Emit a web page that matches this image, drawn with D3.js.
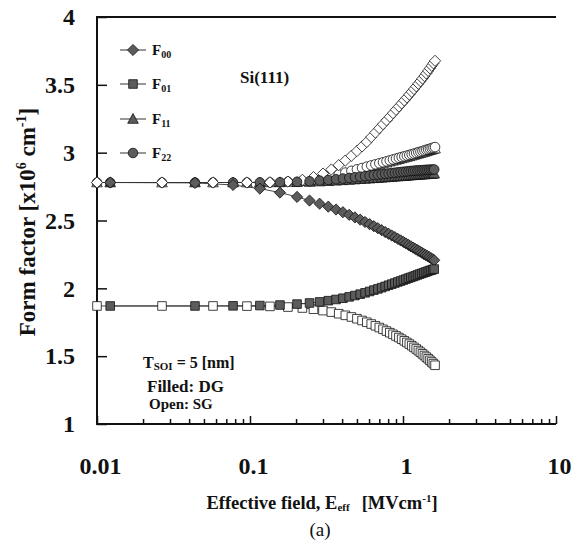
<!DOCTYPE html>
<html>
<head>
<meta charset="utf-8">
<script src="https://cdn.jsdelivr.net/npm/d3@7"></script>
<style>
  html, body { margin: 0; padding: 0; background: #fff; }
  svg { display: block; }
  text { font-family: "Liberation Serif", "Times New Roman", serif; fill: #111; }
</style>
</head>
<body>
<svg id="chart" width="573" height="547"></svg>
<script>
// Effective-field sample points (MV/cm) for single-gate and double-gate runs
const eSG = [0.010, 0.0266, 0.0573, 0.0955, 0.135, 0.177, 0.22, 0.26, 0.30, 0.34, 0.38, 0.42, 0.46, 0.50,
  0.54, 0.58, 0.62, 0.66, 0.70, 0.74, 0.78, 0.82, 0.86, 0.90, 0.94, 0.98, 1.02, 1.06, 1.10, 1.14,
  1.18, 1.22, 1.26, 1.30, 1.34, 1.38, 1.42, 1.46, 1.50, 1.54, 1.58, 1.62];
const eDG = [0.0122, 0.0437, 0.0775, 0.116, 0.157, 0.203, 0.245, 0.285, 0.325, 0.365, 0.405, 0.445,
  0.485, 0.525, 0.565, 0.605, 0.645, 0.685, 0.725, 0.765, 0.805, 0.845, 0.885, 0.925, 0.965, 1.005,
  1.045, 1.085, 1.125, 1.165, 1.205, 1.245, 1.285, 1.325, 1.365, 1.405, 1.445, 1.485, 1.525, 1.565, 1.60];

// Form factors, single gate (open symbols), x10^6 cm^-1
const f00SG = [2.78, 2.78, 2.78, 2.78, 2.781, 2.787, 2.80, 2.82, 2.846, 2.876, 2.908, 2.942, 2.977, 3.012,
  3.046, 3.079, 3.115, 3.148, 3.18, 3.21, 3.238, 3.265, 3.291, 3.316, 3.34, 3.363, 3.385, 3.407, 3.428,
  3.449, 3.469, 3.489, 3.508, 3.527, 3.546, 3.565, 3.584, 3.603, 3.622, 3.641, 3.659, 3.677];
const f01SG = [1.87, 1.87, 1.87, 1.869, 1.867, 1.862, 1.855, 1.846, 1.836, 1.825, 1.813, 1.801, 1.789,
  1.776, 1.763, 1.75, 1.737, 1.724, 1.711, 1.698, 1.685, 1.673, 1.661, 1.649, 1.637, 1.625, 1.613,
  1.601, 1.589, 1.577, 1.565, 1.553, 1.541, 1.529, 1.517, 1.505, 1.493, 1.481, 1.469, 1.457, 1.445, 1.433];
const f11SG = [2.78, 2.78, 2.78, 2.78, 2.781, 2.785, 2.79, 2.80, 2.81, 2.82, 2.835, 2.848, 2.86, 2.87,
  2.88, 2.89, 2.898, 2.906, 2.913, 2.92, 2.927, 2.934, 2.94, 2.946, 2.952, 2.958, 2.963, 2.968, 2.973,
  2.978, 2.983, 2.988, 2.992, 2.997, 3.001, 3.005, 3.01, 3.014, 3.018, 3.022, 3.026, 3.03];
const f22SG = [2.78, 2.78, 2.78, 2.78, 2.781, 2.786, 2.792, 2.803, 2.814, 2.825, 2.84, 2.853, 2.866, 2.877,
  2.887, 2.897, 2.906, 2.914, 2.922, 2.929, 2.936, 2.943, 2.95, 2.956, 2.962, 2.968, 2.973, 2.978, 2.983,
  2.988, 2.993, 2.998, 3.003, 3.007, 3.012, 3.016, 3.021, 3.025, 3.029, 3.033, 3.037, 3.041];

// Form factors, double gate (filled symbols)
const f00DG = [2.78, 2.777, 2.762, 2.735, 2.706, 2.674, 2.647, 2.624, 2.602, 2.581, 2.561, 2.542, 2.523,
  2.506, 2.489, 2.473, 2.458, 2.443, 2.429, 2.415, 2.402, 2.389, 2.377, 2.365, 2.353, 2.342, 2.331,
  2.32, 2.31, 2.30, 2.29, 2.281, 2.272, 2.263, 2.254, 2.246, 2.238, 2.23, 2.222, 2.214, 2.207];
const f01DG = [1.87, 1.87, 1.871, 1.873, 1.877, 1.884, 1.892, 1.90, 1.909, 1.918, 1.927, 1.937, 1.947,
  1.957, 1.967, 1.977, 1.987, 1.996, 2.005, 2.014, 2.023, 2.031, 2.039, 2.047, 2.054, 2.061, 2.068,
  2.075, 2.081, 2.087, 2.093, 2.099, 2.105, 2.11, 2.115, 2.12, 2.125, 2.13, 2.134, 2.138, 2.142];
const f11DG = [2.78, 2.78, 2.78, 2.78, 2.781, 2.782, 2.784, 2.787, 2.79, 2.793, 2.796, 2.799, 2.802,
  2.805, 2.807, 2.809, 2.811, 2.813, 2.815, 2.817, 2.819, 2.821, 2.823, 2.824, 2.826, 2.827, 2.829,
  2.83, 2.832, 2.833, 2.834, 2.836, 2.837, 2.838, 2.839, 2.84, 2.841, 2.842, 2.843, 2.844, 2.845];
const f22DG = [2.78, 2.78, 2.78, 2.781, 2.782, 2.785, 2.789, 2.794, 2.799, 2.804, 2.809, 2.814, 2.819,
  2.823, 2.827, 2.831, 2.835, 2.838, 2.841, 2.844, 2.847, 2.85, 2.852, 2.855, 2.857, 2.859, 2.861,
  2.863, 2.865, 2.866, 2.868, 2.869, 2.87, 2.871, 2.872, 2.873, 2.874, 2.874, 2.875, 2.875, 2.876];

// Axis ticks
const xMajor = [0.01, 0.1, 1, 10];
const xLabels = ["0.01", "0.1", "1", "10"];
const xMinor = [0.02, 0.03, 0.04, 0.05, 0.06, 0.07, 0.08, 0.09, 0.2, 0.3, 0.4, 0.5, 0.6, 0.7, 0.8, 0.9,
  2, 3, 4, 5, 6, 7, 8, 9];
const yMajor = [1, 1.5, 2, 2.5, 3, 3.5, 4];
const yLabels = ["1", "1.5", "2", "2.5", "3", "3.5", "4"];

const legendNames = ["00", "01", "11", "22"];

const svg = d3.select("#chart");
const plotL = 97, plotR = 556, plotT = 17, plotB = 424;

const x = d3.scaleLog().domain([0.01, 10]).range([plotL, plotR]);
const y = d3.scaleLinear().domain([1, 4]).range([plotB, plotT]);

// Marker shapes
const shapes = {
  diamond: "M0,-5.6L5.6,0L0,5.6L-5.6,0Z",
  square: "M-4.3,-4.3L4.3,-4.3L4.3,4.3L-4.3,4.3Z",
  triangle: "M0,-5.5L5.3,4.3L-5.3,4.3Z",
  circle: d3.symbol().type(d3.symbolCircle).size(72)()
};

const series = [
  { e: eSG, v: f11SG, shape: "triangle", filled: false },
  { e: eSG, v: f22SG, shape: "circle", filled: false },
  { e: eSG, v: f00SG, shape: "diamond", filled: false },
  { e: eSG, v: f01SG, shape: "square", filled: false },
  { e: eDG, v: f11DG, shape: "triangle", filled: true },
  { e: eDG, v: f22DG, shape: "circle", filled: true },
  { e: eDG, v: f00DG, shape: "diamond", filled: true },
  { e: eDG, v: f01DG, shape: "square", filled: true }
];

const FILL = "#5c5c5c";

// Axes (ticks pointing inward)
const gx = svg.append("g").attr("transform", `translate(0,${plotB})`)
  .call(d3.axisBottom(x).tickValues(xMajor).tickSize(-8).tickPadding(33)
    .tickFormat((d, i) => xLabels[i]));
gx.select(".domain").remove();
gx.selectAll("text").attr("font-size", 24).attr("font-weight", "bold").attr("dx", "3");

const gxm = svg.append("g").attr("transform", `translate(0,${plotB})`)
  .call(d3.axisBottom(x).tickValues(xMinor).tickSize(-5).tickFormat(""));
gxm.select(".domain").remove();

const gy = svg.append("g").attr("transform", `translate(${plotL},0)`)
  .call(d3.axisLeft(y).tickValues(yMajor).tickSize(-10).tickPadding(22)
    .tickFormat((d, i) => yLabels[i]));
gy.select(".domain").remove();
gy.selectAll("text").attr("font-size", 24).attr("font-weight", "bold");

svg.selectAll(".tick line").attr("stroke", "#111").attr("stroke-width", 1.5);

// Frame
svg.append("path")
  .attr("d", `M${plotR},${plotT}H${plotL}V${plotB}H${plotR}`)
  .attr("fill", "none").attr("stroke", "#111").attr("stroke-width", 2);

// Curves
const line = d3.line().x(d => x(d[0])).y(d => y(d[1]));
series.forEach(s => {
  const pts = s.e.map((e, i) => [e, s.v[i]]);
  svg.append("path").datum(pts).attr("d", line)
    .attr("fill", "none").attr("stroke", "#333").attr("stroke-width", 0.9);
});
series.forEach(s => {
  const pts = s.e.map((e, i) => [e, s.v[i]]);
  svg.append("g").selectAll("path").data(pts).join("path")
    .attr("transform", d => `translate(${x(d[0])},${y(d[1])})`)
    .attr("d", shapes[s.shape])
    .attr("fill", s.filled ? FILL : "#fff")
    .attr("stroke", "#111").attr("stroke-width", 0.8);
});

// Legend
const legShapes = ["diamond", "square", "triangle", "circle"];
const legY = [50, 84, 119, 153];
legShapes.forEach((sh, i) => {
  const g = svg.append("g").attr("transform", `translate(0,${legY[i]})`);
  g.append("line").attr("x1", 120).attr("x2", 146).attr("stroke", "#333").attr("stroke-width", 1);
  g.append("path").attr("transform", "translate(133,0)").attr("d", shapes[sh])
    .attr("fill", FILL).attr("stroke", "#111").attr("stroke-width", 0.8);
  const t = g.append("text").attr("x", 152).attr("y", 5).attr("font-size", 15).attr("font-weight", "bold");
  t.append("tspan").text("F");
  t.append("tspan").attr("font-size", 10).attr("dy", 3).text(legendNames[i]);
});

// Annotations
svg.append("text").attr("x", 240).attr("y", 83).attr("font-size", 17).attr("font-weight", "bold").text("Si(111)");

const tsoi = svg.append("text").attr("x", 143).attr("y", 368).attr("font-size", 16).attr("font-weight", "bold");
tsoi.append("tspan").text("T");
tsoi.append("tspan").attr("font-size", 11).attr("dy", 2).text("SOI");
tsoi.append("tspan").attr("dy", -2).text(" = 5 [nm]");

svg.append("text").attr("x", 147).attr("y", 392).attr("font-size", 17).attr("font-weight", "bold").text("Filled: DG");
svg.append("text").attr("x", 149).attr("y", 409).attr("font-size", 15).attr("font-weight", "bold").text("Open: SG");

// Axis titles
const yt = svg.append("text").attr("transform", "translate(35,222) rotate(-90)")
  .attr("text-anchor", "middle").attr("font-size", 23).attr("font-weight", "bold");
yt.append("tspan").text("Form factor [x10");
yt.append("tspan").attr("font-size", 14).attr("dy", -9).text("6");
yt.append("tspan").attr("dy", 9).text(" cm");
yt.append("tspan").attr("font-size", 14).attr("dy", -9).text("-1");
yt.append("tspan").attr("dy", 9).text("]");

const xt = svg.append("text").attr("x", 322).attr("y", 509)
  .attr("text-anchor", "middle").attr("font-size", 18.5).attr("font-weight", "bold");
xt.append("tspan").text("Effective field, E");
xt.append("tspan").attr("font-size", 11).attr("dy", 2).text("eff");
xt.append("tspan").attr("dy", -2).attr("dx", 12).text("[MVcm");
xt.append("tspan").attr("font-size", 11).attr("dy", -7).text("-1");
xt.append("tspan").attr("dy", 7).text("]");

svg.append("text").attr("x", 320).attr("y", 536).attr("text-anchor", "middle")
  .attr("font-size", 19).text("(a)");
</script>
</body>
</html>
